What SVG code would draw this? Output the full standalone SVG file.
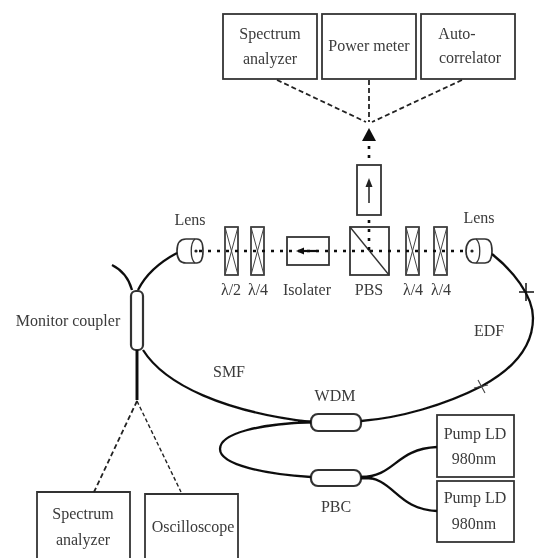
<svg xmlns="http://www.w3.org/2000/svg" width="536" height="558" viewBox="0 0 536 558">
<defs>
<filter id="soft" x="-5%" y="-5%" width="110%" height="110%"><feGaussianBlur stdDeviation="0.65"/></filter>
</defs>
<style>
.box{fill:#fff;stroke:#333;stroke-width:1.8}
.el{fill:#fff;stroke:#333;stroke-width:1.7}
.x{fill:none;stroke:#444;stroke-width:1}
.c{fill:none;stroke:#111;stroke-width:2.2}
.f{fill:none;stroke:#111;stroke-width:2.3}
.fb{fill:none;stroke:#111;stroke-width:3}
.d{fill:none;stroke:#222;stroke-width:1.8;stroke-dasharray:5 3}
.dot{fill:none;stroke:#111;stroke-width:2.6;stroke-dasharray:3 6}
text{font-family:"Liberation Serif",serif;font-size:16px;fill:#3a3a3a;text-anchor:middle}
</style>
<rect width="536" height="558" fill="#fff"/>
<g filter="url(#soft)">
<g id="spectrum-top"><rect class="box" x="223" y="14" width="94" height="65"/><text x="270" y="39">Spectrum</text><text x="270" y="64">analyzer</text></g>
<g id="power-meter"><rect class="box" x="322" y="14" width="94" height="65"/><text x="369" y="51">Power meter</text></g>
<g id="autocorrelator"><rect class="box" x="421" y="14" width="94" height="65"/><text x="457" y="39">Auto-</text><text x="470" y="63">correlator</text></g>
<g id="isolator-up"><rect class="box" x="357" y="165" width="24" height="50"/><path d="M369 203V182" stroke="#222" stroke-width="1.500"/><path d="M369 178L372.500 187H365.500Z" fill="#222"/></g>
<g id="lens-left"><path class="el" d="M186 239H197C201 239 203 242 203 251C203 260 201 263 197 263H186C181 263 177 260 177 251C177 242 181 239 186 239Z"/><path class="x" style="stroke:#333;stroke-width:1.300" d="M195 239C190 243 190 259 195 263"/><circle cx="196" cy="251" r="1.600" fill="#222"/><text x="190" y="225">Lens</text></g>
<g id="hwp"><rect class="el" x="225" y="227" width="13" height="48"/><path class="x" d="M225 227L238 275M238 227L225 275"/><text x="231" y="295">λ/2</text></g>
<g id="qwp1"><rect class="el" x="251" y="227" width="13" height="48"/><path class="x" d="M251 227L264 275M264 227L251 275"/><text x="258" y="295">λ/4</text></g>
<g id="isolator"><rect class="box" x="287" y="237" width="42" height="28"/><path d="M318 251H300" stroke="#111" stroke-width="2.200"/><path d="M296 251L304 247.500V254.500Z" fill="#111"/><text x="307" y="295">Isolater</text></g>
<g id="pbs"><rect class="box" x="350" y="227" width="39" height="48"/><path d="M350 227L389 275" stroke="#333" stroke-width="1.400"/><text x="369" y="295">PBS</text></g>
<g id="qwp2"><rect class="el" x="406" y="227" width="13" height="48"/><path class="x" d="M406 227L419 275M419 227L406 275"/><text x="413" y="295">λ/4</text></g>
<g id="qwp3"><rect class="el" x="434" y="227" width="13" height="48"/><path class="x" d="M434 227L447 275M447 227L434 275"/><text x="441" y="295">λ/4</text></g>
<g id="lens-right"><path class="el" d="M475 239H485C489 239 492 243 492 251C492 259 489 263 485 263H475C470 263 466 259 466 251C466 243 470 239 475 239Z"/><path class="x" style="stroke:#333;stroke-width:1.300" d="M476 239C481 243 481 259 476 263"/><circle cx="472" cy="251" r="1.600" fill="#222"/><text x="479" y="223">Lens</text></g>
<g id="monitor-coupler"><rect class="el" x="131" y="291" width="12" height="59" rx="5" style="stroke-width:2.200"/><text x="68" y="326">Monitor coupler</text></g>
<g id="labels"><text x="229" y="377">SMF</text><text x="489" y="336">EDF</text></g>
<g id="wdm"><rect class="el" x="311" y="414" width="50" height="17" rx="7" style="stroke-width:2.200"/><text x="335" y="401">WDM</text></g>
<g id="pbc"><rect class="el" x="311" y="470" width="50" height="16" rx="7" style="stroke-width:2.200"/><text x="336" y="512">PBC</text></g>
<g id="pump1"><rect class="box" x="437" y="415" width="77" height="62"/><text x="475" y="439">Pump LD</text><text x="474" y="464">980nm</text></g>
<g id="pump2"><rect class="box" x="437" y="481" width="77" height="61"/><text x="475" y="503">Pump LD</text><text x="474" y="529">980nm</text></g>
<g id="spectrum-bottom"><path class="box" d="M37 559V492H130V559"/><text x="83" y="519">Spectrum</text><text x="83" y="545">analyzer</text></g>
<g id="oscilloscope"><path class="box" d="M145 559V494H238V559"/><text x="193" y="532">Oscilloscope</text></g>
<g id="connectors">
<path class="dot" d="M199 251H466"/>
<path class="dot" d="M369 146V162"/>
<path class="dot" d="M369 220V250"/>
<path class="d" d="M277 80L366 122"/>
<path class="d" d="M369 80V122"/>
<path class="d" d="M462 80L372 122"/>
<path d="M369 128L376 141H362Z" fill="#111"/>
<path class="f" d="M177 253C160 262 146 274 138 290"/>
<path class="f" d="M112 265C122 270 129 279 132 290"/>
<path class="fb" d="M137 350V400"/>
<path class="f" d="M143 350C165 385 225 412 311 422"/>
<path class="f" d="M311 422C260 424 220 433 220 449C220 465 265 474 311 477"/>
<path class="f" d="M361 421C400 418 445 405 482 386C515 368 533 345 533 318C533 295 512 270 492 254"/>
<path class="f" d="M361 477C395 477 395 449 437 447"/>
<path class="f" d="M361 477C395 477 395 509 437 511"/>
<path class="fb" d="M298 422H311M361 478H372"/>
<path class="d" d="M137 401L94 492"/>
<path class="d" style="stroke-dasharray:4 2.500;stroke-width:1.400" d="M137 401L181 492"/>
<path fill="none" stroke="#111" stroke-width="1.500" d="M519 292H534M526 283V301"/>
<path fill="none" stroke="#444" stroke-width="1.100" d="M474 388L488 385M478 380L485 393"/>
</g>
</g>
</svg>
